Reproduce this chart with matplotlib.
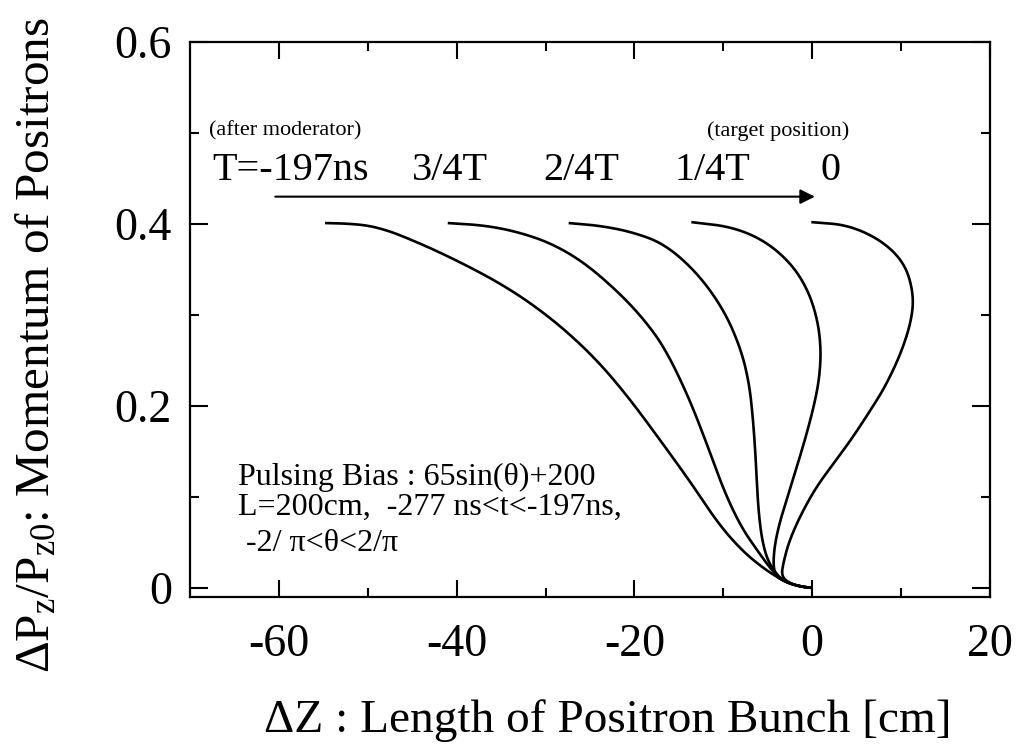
import matplotlib
matplotlib.use("Agg")
import matplotlib.pyplot as plt
import numpy as np

plt.rcParams['font.family'] = ['Liberation Serif', 'DejaVu Serif']
plt.rcParams['mathtext.fontset'] = 'custom'
plt.rcParams['mathtext.rm'] = 'Liberation Serif'
plt.rcParams['mathtext.it'] = 'Liberation Serif:italic'
plt.rcParams['axes.unicode_minus'] = False

# Curves (x = ΔZ [cm], y = ΔPz/Pz0)
c1_x = [-54.8, -52.5, -50.1, -48.2, -46.3, -42.6, -38.8, -35.0, -31.3, -27.5, -23.8,
        -20.4, -17.0, -13.6, -10.6, -8.0, -5.7, -3.5, -2.3, -1.0, 0.0]
c1_y = [0.401, 0.4005, 0.3985, 0.394, 0.3875, 0.372, 0.354, 0.334, 0.3105, 0.281, 0.246,
        0.206, 0.161, 0.115, 0.071, 0.042, 0.023, 0.009, 0.004, 0.001, 0.0]

c2_x = [-41.0, -36.9, -33.2, -29.4, -25.7, -21.9, -19.0, -16.6, -14.0, -11.8, -9.9,
        -8.0, -6.1, -4.6, -3.5, -2.3, -1.0, 0.0]
c2_y = [0.401, 0.3985, 0.3915, 0.379, 0.358, 0.326, 0.296, 0.264, 0.212, 0.157, 0.106,
        0.067, 0.040, 0.020, 0.009, 0.004, 0.001, 0.0]

c3_x = [-27.4, -23.8, -20.2, -16.6, -12.9, -9.9, -8.0, -7.1, -6.7, -6.4, -6.2,
        -6.0, -5.6, -4.9, -3.5, -2.3, -1.0, 0.0]
c3_y = [0.401, 0.398, 0.391, 0.378, 0.346, 0.305, 0.262, 0.225, 0.190, 0.150, 0.110,
        0.080, 0.050, 0.027, 0.009, 0.004, 0.001, 0.0]

c4_x = [-13.6, -9.1, -5.4, -2.4, -0.5, 0.6, 1.0, 0.8, 0.2, -0.8, -2.3, -3.5,
        -4.2, -4.4, -4.1, -3.5, -2.3, -1.0, 0.0]
c4_y = [0.402, 0.397, 0.382, 0.357, 0.328, 0.295, 0.262, 0.230, 0.200, 0.163, 0.115, 0.078,
        0.049, 0.025, 0.014, 0.009, 0.004, 0.001, 0.0]

c5_x = [-0.1, 4.0, 7.8, 10.4, 11.4, 11.2, 10.0, 8.2, 6.6, 4.6, 2.5, 0.6, -1.1,
        -2.5, -3.2, -3.5, -2.3, -1.0, 0.0]
c5_y = [0.402, 0.399, 0.382, 0.357, 0.324, 0.295, 0.258, 0.221, 0.196, 0.166, 0.138, 0.113, 0.084,
        0.054, 0.030, 0.012, 0.004, 0.001, 0.0]

curves = [(c1_x, c1_y), (c2_x, c2_y), (c3_x, c3_y), (c4_x, c4_y), (c5_x, c5_y)]

x_ticks = [-60, -40, -20, 0, 20]
x_minor = [-50, -30, -10, 10]
y_ticks = [0, 0.2, 0.4, 0.6]
y_minor = [0.1, 0.3, 0.5]
y_tick_labels = ['0', '0.2', '0.4', '0.6']

time_labels = ['3/4T', '2/4T', '1/4T', '0']
time_label_x = [-40.7, -26.0, -11.2, 2.1]


def smooth(xs, ys, iterations=5):
    """Chaikin corner cutting of the read polyline (endpoints kept)."""
    P = np.column_stack([np.asarray(xs, float), np.asarray(ys, float)])
    for _ in range(iterations):
        Q = 0.75 * P[:-1] + 0.25 * P[1:]
        R = 0.25 * P[:-1] + 0.75 * P[1:]
        mid = np.empty((2 * len(Q), 2))
        mid[0::2] = Q
        mid[1::2] = R
        P = np.vstack([P[0], mid, P[-1]])
    return P[:, 0], P[:, 1]


fig = plt.figure(figsize=(10.18, 7.55), dpi=100)
ax = fig.add_axes([0.1866, 0.2093, 0.7859, 0.7351])

for xs, ys in curves:
    px, py = smooth(xs, ys)
    ax.plot(px, py, color='black', lw=1.9, solid_capstyle='butt', solid_joinstyle='round')

ax.set_xlim(-70, 20)
ax.set_ylim(-0.01, 0.6)
ax.set_xticks(x_ticks)
ax.set_xticks(x_minor, minor=True)
ax.set_yticks(y_ticks)
ax.set_yticklabels(y_tick_labels)
ax.set_yticks(y_minor, minor=True)
ax.tick_params(which='both', direction='in', top=True, right=True, width=1.5,
               labelsize=33, color='black')
ax.tick_params(axis='x', which='major', length=12.5, pad=19)
ax.tick_params(axis='x', which='minor', length=6.5)
ax.tick_params(axis='y', which='major', length=13, pad=13)
ax.tick_params(axis='y', which='minor', length=6.5)
for sp in ax.spines.values():
    sp.set_linewidth(1.6)

ax.set_xlabel('ΔZ : Length of Positron Bunch [cm]', fontsize=34, labelpad=24, x=0.5225)
ax.set_ylabel(r'$\Delta\mathrm{P_z/P_{z0}}$: Momentum of Positrons', fontsize=35.5,
              labelpad=40, y=0.454)

ax.text(-67.9, 0.502, '(after moderator)', fontsize=16, ha='left', va='center')
ax.text(-67.5, 0.459, 'T=-197ns', fontsize=29, ha='left', va='center')
for lbl, lx in zip(time_labels, time_label_x):
    ax.text(lx, 0.459, lbl, fontsize=29, ha='center', va='center')
ax.text(-3.8, 0.502, '(target position)', fontsize=16, ha='center', va='center')
ax.annotate('', xy=(0.3, 0.430), xytext=(-60.4, 0.430),
            arrowprops=dict(arrowstyle='-|>', color='black', lw=1.5,
                            mutation_scale=22, shrinkA=0, shrinkB=0))

ax.text(-64.6, 0.121, 'Pulsing Bias : 65sin(θ)+200', fontsize=23, ha='left', va='center')
ax.text(-64.6, 0.089, 'L=200cm,  -277 ns<t<-197ns,', fontsize=23, ha='left', va='center')
ax.text(-64.6, 0.049, ' -2/ π<θ<2/π', fontsize=23, ha='left', va='center')

fig.savefig('out.png', dpi=100)
